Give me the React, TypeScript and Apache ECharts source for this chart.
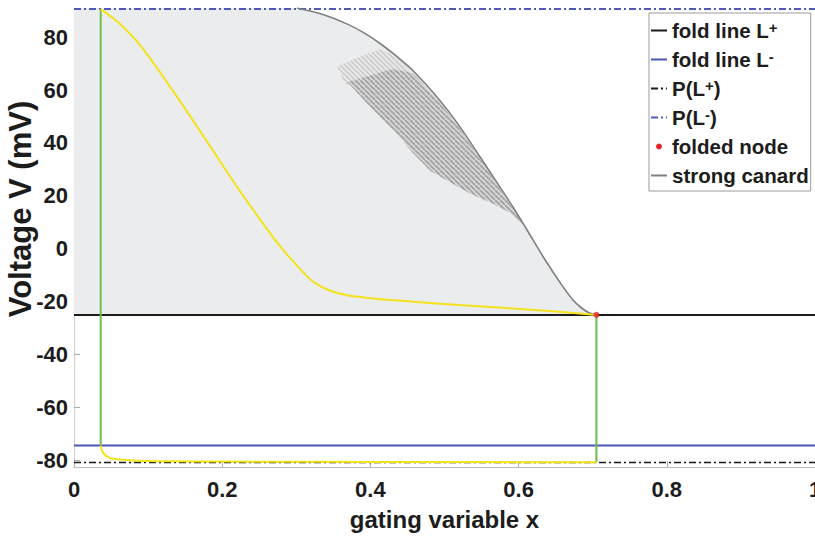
import React, { useEffect, useRef } from 'react';
import * as echarts from 'echarts';

// ---- axis ranges & ticks ----
const X_MIN = 0;
const X_MAX = 1;
const V_MIN = -82.5;
const V_MAX = 91;
const yTickValues = [-80, -60, -40, -20, 0, 20, 40, 60, 80];

// ---- horizontal lines ----
const foldPlusV = -25;
const foldMinusV = -74.4;
const projPlusV = -80.8;
const projMinusV = 90.6;

// ---- folded node ----
const foldedNodeX = 0.705;
const foldedNodeV = -25;

// ---- strong canard ----
const canardX = [0.301, 0.335, 0.369, 0.392, 0.414, 0.436, 0.458, 0.491, 0.518, 0.549, 0.572, 0.593, 0.612, 0.634, 0.657, 0.674, 0.685, 0.695, 0.705];
const canardV = [91, 88.6, 84.9, 81.5, 77.4, 72.6, 67.2, 57, 47.2, 34.3, 24.5, 15.5, 6.8, -3.4, -13.2, -19.6, -22.4, -24.2, -25];

// ---- yellow trajectory ----
const yellowUpperX = [0.036, 0.06, 0.09, 0.135, 0.18, 0.225, 0.27, 0.29, 0.311, 0.323, 0.345, 0.369, 0.41, 0.458, 0.52, 0.593, 0.65, 0.705];
const yellowUpperV = [90.6, 85.5, 76.7, 59.1, 40.3, 21.4, 3.8, -3, -9.4, -12.5, -15.8, -17.6, -19, -20, -21.3, -22.6, -23.7, -25];
const yellowLowerX = [0.036, 0.037, 0.0385, 0.0405, 0.045, 0.0496, 0.058, 0.0676, 0.085, 0.112, 0.16, 0.25, 0.4, 0.55, 0.705];
const yellowLowerV = [-74.4, -75.7, -76.8, -77.6, -78.6, -79.2, -79.6, -79.8, -80.1, -80.3, -80.4, -80.5, -80.6, -80.65, -80.7];

// ---- green jumps ----
const greenLeftX = [0.036, 0.036];
const greenLeftV = [-74.4, 90.6];
const greenRightX = [0.705, 0.705];
const greenRightV = [-25, -80.7];

// ---- moiré patch ----
const moireOuterX = [0.355, 0.385, 0.414, 0.44, 0.458, 0.43, 0.4, 0.366];
const moireOuterV = [69, 72.5, 75.5, 71.5, 66, 63.5, 61.5, 62];
const moireInnerX = [0.369, 0.4, 0.43, 0.458, 0.491, 0.518, 0.549, 0.572, 0.593, 0.608, 0.589, 0.562, 0.535, 0.508, 0.481, 0.458, 0.436, 0.4];
const moireInnerV = [63, 65.5, 68, 66.2, 56.2, 46.5, 33.6, 23.8, 14.8, 8.5, 13.5, 17.5, 20.8, 25, 29.4, 36, 43.3, 53.5];

const FONT = '"Liberation Sans", Arial, Helvetica, sans-serif';
const TEXT = '#1c1c1c';

const zip = (xs: number[], vs: number[]) => xs.map((x, i) => [x, vs[i]]);

const polygonSeries = (xs: number[], vs: number[], fill: any, z: number, opacity = 1) => ({
  type: 'custom',
  silent: true,
  z,
  clip: true,
  data: [[xs[0], vs[0]]],
  renderItem: (_params: any, api: any) => {
    const points = xs.map((x, i) => api.coord([x, vs[i]]));
    return { type: 'polygon', shape: { points }, style: { fill, opacity } };
  },
});

const makeStripes = (bg: string, fg: string, size: number, lw: number) => {
  const c = document.createElement('canvas');
  c.width = size;
  c.height = size;
  const ctx = c.getContext('2d');
  if (ctx) {
    ctx.fillStyle = bg;
    ctx.fillRect(0, 0, size, size);
    ctx.strokeStyle = fg;
    ctx.lineWidth = lw;
    for (let k = -size; k <= 2 * size; k += size) {
      ctx.beginPath();
      ctx.moveTo(k, 0);
      ctx.lineTo(k + size, size);
      ctx.stroke();
    }
  }
  return { image: c, repeat: 'repeat' };
};

const legendLabels: Record<string, string> = {
  'fold line L+': '{b|fold line L}{sup|+}',
  'fold line L-': '{b|fold line L}{sup|-}',
  'P(L+)': '{b|P(L}{sup|+}{b|)}',
  'P(L-)': '{b|P(L}{sup|-}{b|)}',
  'folded node': '{b|folded node}',
  'strong canard': '{b|strong canard}',
};

export default function App() {
  const ref = useRef<HTMLDivElement>(null);
  useEffect(() => {
    if (!ref.current) return;
    const chart = echarts.init(ref.current, undefined, { renderer: 'svg' });
    const shadeX = [0, 0, ...canardX];
    const shadeV = [foldPlusV, V_MAX, ...canardV];
    const dashDot = [7, 3, 2, 3];
    const hideDot = { itemStyle: { opacity: 0 } };
    chart.setOption({
      animation: false,
      backgroundColor: '#fff',
      grid: { left: 74, right: 0, top: 8, bottom: 69, containLabel: false, outerBoundsMode: 'none' },
      xAxis: {
        type: 'value',
        min: X_MIN,
        max: X_MAX,
        interval: 0.2,
        name: 'gating variable x',
        nameLocation: 'middle',
        nameGap: 40,
        nameTextStyle: { fontFamily: FONT, fontWeight: 'bold', fontSize: 24, color: TEXT },
        axisLine: { onZero: false, lineStyle: { color: '#bdbdbd', width: 1 } },
        axisTick: { inside: true, length: 6, lineStyle: { color: '#aaaaaa' } },
        splitLine: { show: false },
        axisLabel: {
          margin: 11,
          fontFamily: FONT,
          fontWeight: 'bold',
          fontSize: 22,
          color: TEXT,
          formatter: (v: number) => (v === 0 ? '0' : v === 1 ? '1' : v.toFixed(1)),
        },
      },
      yAxis: {
        type: 'value',
        min: V_MIN,
        max: V_MAX,
        axisLine: { show: true, onZero: false, lineStyle: { color: '#cfcfcf', width: 1 } },
        axisTick: { show: true, inside: true, length: 6, customValues: yTickValues, lineStyle: { color: '#aaaaaa' } },
        splitLine: { show: false },
        axisLabel: {
          margin: 6,
          customValues: yTickValues,
          fontFamily: FONT,
          fontWeight: 'bold',
          fontSize: 22,
          color: TEXT,
        },
      },
      graphic: [
        {
          type: 'text',
          x: 20,
          y: 209,
          rotation: Math.PI / 2,
          style: {
            text: 'Voltage V (mV)',
            font: `bold 31px ${FONT}`,
            fill: TEXT,
            align: 'center',
            verticalAlign: 'middle',
          },
        },
      ],
      legend: {
        orient: 'vertical',
        left: 649,
        top: 13,
        padding: [7, 2, 5, 1],
        itemGap: 8,
        itemWidth: 16,
        itemHeight: 8,
        backgroundColor: '#fff',
        borderColor: '#9a9a9a',
        borderWidth: 1,
        borderRadius: 0,
        formatter: (name: string) => legendLabels[name] || name,
        textStyle: {
          fontFamily: FONT,
          fontWeight: 'bold',
          fontSize: 20.5,
          color: TEXT,
          rich: {
            b: { fontFamily: FONT, fontWeight: 'bold', fontSize: 20.5, color: TEXT, lineHeight: 21 },
            sup: { fontFamily: FONT, fontWeight: 'bold', fontSize: 15, color: TEXT, verticalAlign: 'top', lineHeight: 12 },
          },
        },
        data: [
          { name: 'fold line L+', ...hideDot },
          { name: 'fold line L-', ...hideDot },
          { name: 'P(L+)', ...hideDot },
          { name: 'P(L-)', ...hideDot },
          { name: 'folded node', icon: 'circle', itemStyle: { color: '#e3262b', borderColor: '#fff', borderWidth: 2, opacity: 1 } },
          { name: 'strong canard', ...hideDot },
        ],
      },
      series: [
        polygonSeries(shadeX, shadeV, '#ebeced', 1),
        polygonSeries(moireOuterX, moireOuterV, makeStripes('#e6e6e6', '#c4c4c4', 5, 1.2), 2),
        polygonSeries(moireInnerX, moireInnerV, makeStripes('#dadada', '#a6a6a6', 5, 2), 3),
        {
          name: 'fold line L+',
          type: 'line',
          symbol: 'none',
          z: 5,
          lineStyle: { color: '#1a1a1a', width: 2 },
          itemStyle: { color: '#1a1a1a' },
          data: [[X_MIN, foldPlusV], [X_MAX, foldPlusV]],
        },
        {
          name: 'fold line L-',
          type: 'line',
          symbol: 'none',
          z: 5,
          lineStyle: { color: '#4b55b3', width: 2 },
          itemStyle: { color: '#4b55b3' },
          data: [[X_MIN, foldMinusV], [X_MAX, foldMinusV]],
        },
        {
          name: 'P(L+)',
          type: 'line',
          symbol: 'none',
          z: 5,
          lineStyle: { color: '#1a1a1a', width: 1.5, type: dashDot },
          itemStyle: { color: '#1a1a1a' },
          data: [[X_MIN, projPlusV], [X_MAX, projPlusV]],
        },
        {
          name: 'P(L-)',
          type: 'line',
          symbol: 'none',
          z: 5,
          lineStyle: { color: '#4d58b8', width: 2, type: dashDot },
          itemStyle: { color: '#4d58b8' },
          data: [[X_MIN, projMinusV], [X_MAX, projMinusV]],
        },
        {
          name: 'strong canard',
          type: 'line',
          symbol: 'none',
          smooth: 0.3,
          z: 6,
          lineStyle: { color: '#7f7f7f', width: 1.6 },
          itemStyle: { color: '#7f7f7f' },
          data: zip(canardX, canardV),
        },
        {
          name: 'greenLeft',
          type: 'line',
          symbol: 'none',
          z: 7,
          lineStyle: { color: '#6cbd4f', width: 2 },
          data: zip(greenLeftX, greenLeftV),
        },
        {
          name: 'greenRight',
          type: 'line',
          symbol: 'none',
          z: 7,
          lineStyle: { color: '#6cbd4f', width: 2 },
          data: zip(greenRightX, greenRightV),
        },
        {
          name: 'yellowUpper',
          type: 'line',
          symbol: 'none',
          smooth: 0.3,
          z: 8,
          lineStyle: { color: '#f3e31c', width: 2 },
          data: zip(yellowUpperX, yellowUpperV),
        },
        {
          name: 'yellowLower',
          type: 'line',
          symbol: 'none',
          smooth: 0.3,
          z: 8,
          lineStyle: { color: '#f3e31c', width: 2 },
          data: zip(yellowLowerX, yellowLowerV),
        },
        {
          name: 'folded node',
          type: 'scatter',
          symbol: 'circle',
          symbolSize: 6,
          z: 9,
          itemStyle: { color: '#e3262b' },
          data: [[foldedNodeX, foldedNodeV]],
        },
      ],
    });
    return () => chart.dispose();
  }, []);
  return (
    <div
      ref={ref}
      style={{ position: 'fixed', left: 0, top: 0, width: 815, height: 536, background: '#fff' }}
    />
  );
}
